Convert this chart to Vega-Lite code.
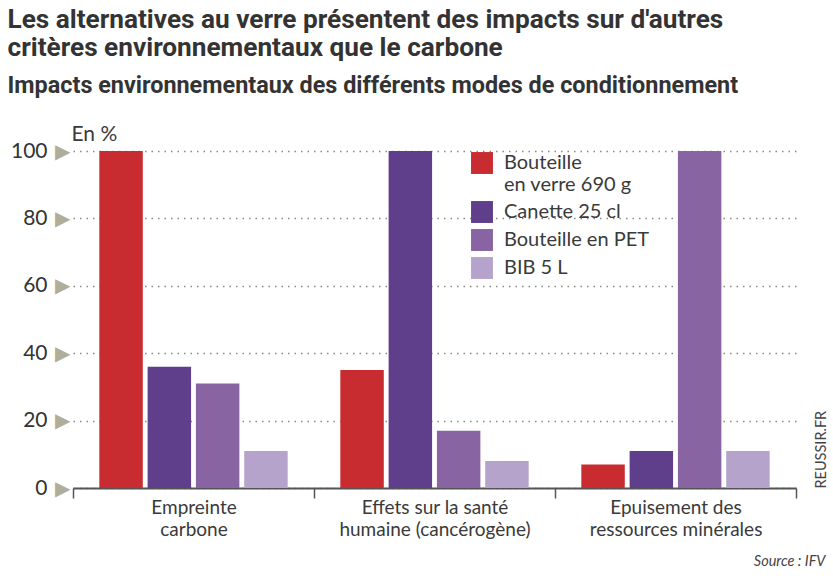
{"$schema":"https://vega.github.io/schema/vega-lite/v6.json","width":723,"height":337,"autosize":"none","padding":{"left":73,"top":151,"right":37,"bottom":88},"background":"white",
"config":{"view":{"stroke":null}},
"data":{"values":[
{"critere":"Empreinte|carbone","mode":"Bouteille en verre 690 g","valeur":100},
{"critere":"Empreinte|carbone","mode":"Canette 25 cl","valeur":36},
{"critere":"Empreinte|carbone","mode":"Bouteille en PET","valeur":31},
{"critere":"Empreinte|carbone","mode":"BIB 5 L","valeur":11},
{"critere":"Effets sur la santé|humaine (cancérogène)","mode":"Bouteille en verre 690 g","valeur":35},
{"critere":"Effets sur la santé|humaine (cancérogène)","mode":"Canette 25 cl","valeur":100},
{"critere":"Effets sur la santé|humaine (cancérogène)","mode":"Bouteille en PET","valeur":17},
{"critere":"Effets sur la santé|humaine (cancérogène)","mode":"BIB 5 L","valeur":8},
{"critere":"Epuisement des|ressources minérales","mode":"Bouteille en verre 690 g","valeur":7},
{"critere":"Epuisement des|ressources minérales","mode":"Canette 25 cl","valeur":11},
{"critere":"Epuisement des|ressources minérales","mode":"Bouteille en PET","valeur":100},
{"critere":"Epuisement des|ressources minérales","mode":"BIB 5 L","valeur":11}
]},
"layer":[
{"mark":{"type":"bar"},
"encoding":{
"x":{"field":"critere","type":"nominal","sort":null,"scale":{"paddingInner":0,"paddingOuter":0},
"axis":{"title":"Source : IFV","titleFont":"Lato","titleFontStyle":"italic","titleFontWeight":"normal","titleFontSize":14.5,"titleColor":"#444444","titleAnchor":"end","titleAlign":"right","titleBaseline":"alphabetic","titleX":752,"titleY":77,"labelAngle":0,"labelExpr":"split(datum.label,'|')","labelLimit":400,"labelFont":"Lato","labelFontSize":19,"labelLineHeight":22,"labelColor":"#3a3a3a","labelPadding":0,"tickBand":"extent","tickSize":10,"tickColor":"#555555","tickWidth":1.5,"domainColor":"#555555","domainWidth":2}},
"xOffset":{"field":"mode","type":"nominal","sort":["Bouteille en verre 690 g","Canette 25 cl","Bouteille en PET","BIB 5 L"],"scale":{"paddingInner":0.1,"paddingOuter":0.545}},
"y":{"field":"valeur","type":"quantitative","scale":{"domain":[0,100],"nice":false},
"axis":{"values":[0,20,40,60,80,100],"title":"En %","titleAngle":0,"titleX":-2,"titleY":-11,"titleAlign":"left","titleBaseline":"alphabetic","titleFont":"Lato","titleFontSize":21,"titleFontWeight":"normal","titleColor":"#3a3a3a","labelFont":"Lato","labelFontSize":21,"labelColor":"#333333","labelPadding":26,"ticks":false,"domain":false,"grid":true,"gridColor":"#8a8a80","gridDash":[1.5,5],"gridWidth":1.5}},
"color":{"field":"mode","type":"nominal","sort":["Bouteille en verre 690 g","Canette 25 cl","Bouteille en PET","BIB 5 L"],"scale":{"domain":["Bouteille en verre 690 g","Canette 25 cl","Bouteille en PET","BIB 5 L"],"range":["#C92C30","#5F3F8C","#8864A2","#B5A3CC"]},
"legend":{"title":null,"orient":"none","legendX":398,"legendY":1,"symbolType":"square","symbolSize":480,"symbolStrokeWidth":0,"symbolOpacity":1,"labelFont":"Lato","labelFontSize":20,"labelColor":"#3a3a3a","labelOffset":11,"rowPadding":6,"labelExpr":"datum.label=='Bouteille en verre 690 g'?['Bouteille','en verre 690 g']:datum.label"}}
}},
{"mark":{"type":"bar","opacity":0},
"encoding":{
"y":{"field":"valeur","type":"quantitative","axis":{"orient":"left","values":[0,20,40,60,80,100],"labelExpr":"'▶'","labelFont":"DejaVu Sans","labelFontSize":20,"labelColor":"#B0AD98","labelPadding":3,"ticks":false,"domain":false,"grid":false,"title":"REUSSIR.FR","titleAngle":-90,"titleX":752,"titleY":337,"titleAlign":"left","titleBaseline":"alphabetic","titleFont":"Lato","titleFontSize":14.5,"titleFontWeight":"normal","titleColor":"#444444"}}
}},
{"mark":{"type":"bar","opacity":0},
"encoding":{
"y":{"field":"valeur","type":"quantitative","axis":{"orient":"left","labels":false,"ticks":false,"domain":false,"grid":false,"title":["Les alternatives au verre présentent des impacts sur d'autres","critères environnementaux que le carbone"],"titleAngle":0,"titleX":-66,"titleY":-124,"titleAlign":"left","titleBaseline":"alphabetic","titleLimit":900,"titleLineHeight":28,"titleFont":"Roboto","titleFontSize":26.2,"titleFontWeight":"bold","titleColor":"#333333"}}
}},
{"mark":{"type":"bar","opacity":0},
"encoding":{
"y":{"field":"valeur","type":"quantitative","axis":{"orient":"left","labels":false,"ticks":false,"domain":false,"grid":false,"title":"Impacts environnementaux des différents modes de conditionnement","titleAngle":0,"titleX":-66,"titleY":-59,"titleAlign":"left","titleBaseline":"alphabetic","titleLimit":900,"titleFont":"Roboto","titleFontSize":23.4,"titleFontWeight":"bold","titleColor":"#333333"}}
}}
],
"resolve":{"axis":{"y":"independent"}}
}
